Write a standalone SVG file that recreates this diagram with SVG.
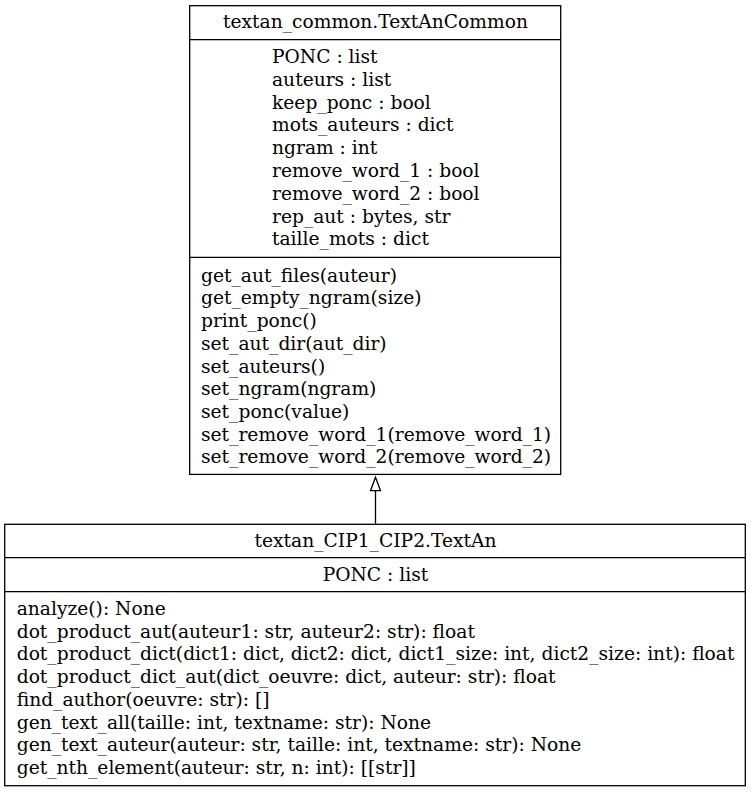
<svg xmlns="http://www.w3.org/2000/svg" width="751" height="792" viewBox="0 0 751 792">
<style>
.box{fill:#fff;stroke:#000;stroke-width:1.3}
.sep{stroke:#000;stroke-width:1.3}
text{font-family:"DejaVu Serif","Liberation Serif",serif;font-size:18.67px;fill:#000}
.c{text-anchor:middle}
.edge{stroke:#000;stroke-width:1.3;fill:none}
.head{fill:#fff;stroke:#000;stroke-width:1.3}
</style>
<rect width="751" height="792" fill="#fff"/>
<g id="connectors">
<path class="edge" d="M375.5,490.7 L375.5,523.7"/>
<polygon class="head" points="375.5,477.3 370.5,490.7 380.5,490.7"/>
</g>
<g id="TextAnCommon">
<rect class="box" x="189.7" y="5.7" width="371" height="468.7"/>
<line class="sep" x1="189.7" y1="39.7" x2="560.7" y2="39.7"/>
<line class="sep" x1="189.7" y1="257.3" x2="560.7" y2="257.3"/>
<text class="c" x="375.5" y="28.3">textan_common.TextAnCommon</text>
<text x="272" y="63">PONC : list</text>
<text x="272" y="85.8">auteurs : list</text>
<text x="272" y="108.6">keep_ponc : bool</text>
<text x="272" y="131.4">mots_auteurs : dict</text>
<text x="272" y="154.2">ngram : int</text>
<text x="272" y="177">remove_word_1 : bool</text>
<text x="272" y="199.8">remove_word_2 : bool</text>
<text x="272" y="222.6">rep_aut : bytes, str</text>
<text x="272" y="245.4">taille_mots : dict</text>
<text x="201" y="281.7">get_aut_files(auteur)</text>
<text x="201" y="304.4">get_empty_ngram(size)</text>
<text x="201" y="327.1">print_ponc()</text>
<text x="201" y="349.8">set_aut_dir(aut_dir)</text>
<text x="201" y="372.5">set_auteurs()</text>
<text x="201" y="395.2">set_ngram(ngram)</text>
<text x="201" y="417.9">set_ponc(value)</text>
<text x="201" y="440.6">set_remove_word_1(remove_word_1)</text>
<text x="201" y="463.3">set_remove_word_2(remove_word_2)</text>
</g>
<g id="TextAn">
<rect class="box" x="4.7" y="524.3" width="740.6" height="261.4"/>
<line class="sep" x1="4.7" y1="557.7" x2="745.3" y2="557.7"/>
<line class="sep" x1="4.7" y1="591.7" x2="745.3" y2="591.7"/>
<text class="c" x="375.5" y="547.3">textan_CIP1_CIP2.TextAn</text>
<text class="c" x="375.5" y="580.5">PONC : list</text>
<text x="16.7" y="615">analyze(): None</text>
<text x="16.7" y="637.7">dot_product_aut(auteur1: str, auteur2: str): float</text>
<text x="16.7" y="660.4">dot_product_dict(dict1: dict, dict2: dict, dict1_size: int, dict2_size: int): float</text>
<text x="16.7" y="683.1">dot_product_dict_aut(dict_oeuvre: dict, auteur: str): float</text>
<text x="16.7" y="705.8">find_author(oeuvre: str): []</text>
<text x="16.7" y="728.5">gen_text_all(taille: int, textname: str): None</text>
<text x="16.7" y="751.2">gen_text_auteur(auteur: str, taille: int, textname: str): None</text>
<text x="16.7" y="773.9">get_nth_element(auteur: str, n: int): [[str]]</text>
</g>
</svg>
